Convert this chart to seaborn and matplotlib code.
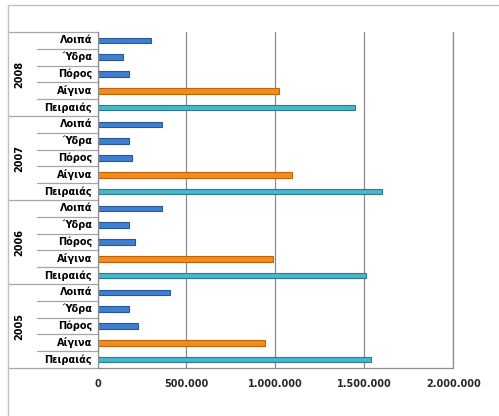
import matplotlib
matplotlib.use("Agg")
import matplotlib.pyplot as plt
from matplotlib.lines import Line2D
from matplotlib.ticker import FuncFormatter
import matplotlib.transforms as mtransforms
import seaborn as sns
import pandas as pd

# Passenger traffic per port, grouped by year (top group first)
years = ["2008", "2007", "2006", "2005"]
ports = ["Λοιπά", "Ύδρα", "Πόρος", "Αίγινα", "Πειραιάς"]
values_2008 = [300000, 145000, 177000, 1018000, 1446000]
values_2007 = [363000, 177000, 194000, 1093000, 1600000]
values_2006 = [361000, 177000, 213000, 986000, 1512000]
values_2005 = [410000, 177000, 228000, 943000, 1538000]
x_ticks = [0, 500000, 1000000, 1500000, 2000000]

series = {"2008": values_2008, "2007": values_2007,
          "2006": values_2006, "2005": values_2005}

rows = []
for y in years:
    for p, v in zip(ports, series[y]):
        rows.append({"row": f"{y}|{p}", "year": y, "port": p, "value": v})
df = pd.DataFrame(rows)

port_colors = {"Λοιπά": "#3f7fd2", "Ύδρα": "#3f7fd2", "Πόρος": "#3f7fd2",
               "Αίγινα": "#f58b1c", "Πειραιάς": "#48b6cb"}
edge_colors = {"Λοιπά": "#2a5896", "Ύδρα": "#2a5896", "Πόρος": "#2a5896",
               "Αίγινα": "#bf6409", "Πειραιάς": "#2c7c8e"}

sns.set_theme(style="white")
plt.rcParams["font.family"] = ["DejaVu Sans"]

W, H = 499, 416
fig = plt.figure(figsize=(W / 100, H / 100), dpi=100)
left, right, top, bottom = 97.5, 453.3, 32, 368
ax = fig.add_axes([left / W, 1 - bottom / H, (right - left) / W, (bottom - top) / H])

sns.barplot(data=df, y="row", x="value", hue="port", palette=port_colors,
            order=df["row"].tolist(), dodge=False, width=0.34, saturation=1,
            orient="h", legend=False, ax=ax)

# colour the edges per port
for cont, port in zip(ax.containers, df["port"].unique()):
    for bar in cont:
        bar.set_edgecolor(edge_colors[port])
        bar.set_linewidth(0.8)

n = len(df)
ax.set_xlim(0, 2000000)
ax.set_ylim(n - 0.5, -0.5)
ax.set_xticks(x_ticks)
ax.xaxis.set_major_formatter(FuncFormatter(lambda v, _: f"{int(v):,}".replace(",", ".")))
ax.set_xlabel("")
ax.set_ylabel("")
ax.set_yticks([])

grid_color = "#8c8c8c"
ax.grid(axis="x", color=grid_color, linewidth=0.9)
ax.axvline(x_ticks[-1], color=grid_color, linewidth=0.9, clip_on=False, zorder=0.5)
ax.set_axisbelow(True)
for s in ["top", "right"]:
    ax.spines[s].set_visible(False)
for s in ["left", "bottom"]:
    ax.spines[s].set_color(grid_color)
    ax.spines[s].set_linewidth(0.9)

ax.tick_params(axis="x", direction="out", length=3, width=0.9, color=grid_color,
               pad=5, labelsize=7)
for lab in ax.get_xticklabels():
    lab.set_fontweight("bold")

# multi-level category axis on the left
trans = mtransforms.blended_transform_factory(ax.transAxes, ax.transData)
ax_w = right - left
inner_x = (92 - left) / ax_w
sep_short = (37 - left) / ax_w
sep_long = (8 - left) / ax_w
year_x = (19 - left) / ax_w

for i, r in df.iterrows():
    ax.text(inner_x, i, r["port"], transform=trans, ha="right", va="center",
            fontsize=7, fontweight="bold", color="black")

for b in range(n + 1):
    yb = b - 0.5
    x0 = sep_long if b % len(ports) == 0 else sep_short
    ax.add_line(Line2D([x0, 0], [yb, yb], transform=trans, color="#a6a6a6",
                       linewidth=0.9, clip_on=False))

for k, y in enumerate(years):
    center = k * len(ports) + (len(ports) - 1) / 2
    ax.text(year_x, center, y, transform=trans, ha="center", va="center",
            rotation=90, fontsize=7, fontweight="bold", color="black")

# chart frame
fig.add_artist(Line2D([8 / W, 1], [1 - 5 / H, 1 - 5 / H], transform=fig.transFigure,
                      color="#c0c0c0", linewidth=1))
fig.add_artist(Line2D([8 / W, 8 / W], [0, 1 - 5 / H], transform=fig.transFigure,
                      color="#c0c0c0", linewidth=1))

fig.savefig("out.png", dpi=100)
